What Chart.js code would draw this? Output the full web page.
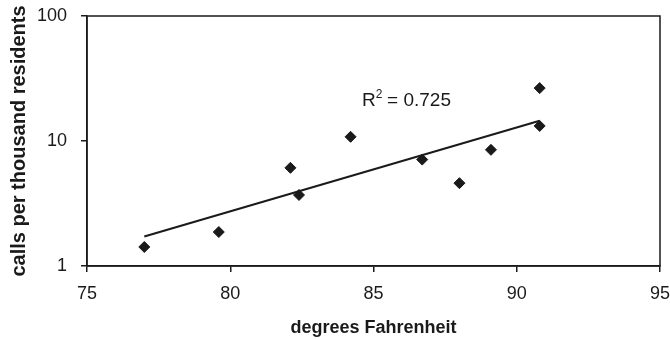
<!DOCTYPE html>
<html>
<head>
<meta charset="utf-8">
<script src="https://cdn.jsdelivr.net/npm/chart.js@4/dist/chart.umd.min.js"></script>
<style>
  html, body { margin: 0; padding: 0; background: #fff; }
  #wrap { width: 670px; height: 339px; }
</style>
</head>
<body>
<div id="wrap"><canvas id="chart"></canvas></div>
<script>
// 기온(화씨)과 주민 천 명당 호출 수
const tempF = [77.0, 79.6, 82.1, 82.4, 84.2, 86.7, 88.0, 89.1, 90.8, 90.8];
const callsPerThousand = [1.42, 1.87, 6.1, 3.7, 10.8, 7.1, 4.6, 8.5, 26.5, 13.2];

// 추세선 양 끝
const trendX = [77.0, 90.8];
const trendY = [1.72, 14.5];

const xTicks = [75, 80, 85, 90, 95];
const yTicks = [1, 10, 100];
const r2Text = '0.725';
const r2At = { x: 84.6, y: 21 };

const ink = '#1a1a1a';
const fontFamily = '"Liberation Sans", Arial, sans-serif';

// 그래프 테두리 + R² 라벨
const framePlugin = {
    id: 'frame',
    afterDraw(chart) {
        const { ctx, chartArea: a, scales } = chart;
        ctx.save();
        ctx.strokeStyle = ink;
        ctx.lineWidth = 1.5;
        ctx.strokeRect(a.left, a.top, a.right - a.left, a.bottom - a.top);

        const px = scales.x.getPixelForValue(r2At.x);
        const py = scales.y.getPixelForValue(r2At.y);
        ctx.fillStyle = ink;
        ctx.textBaseline = 'middle';
        ctx.textAlign = 'left';
        ctx.font = '19px ' + fontFamily;
        ctx.fillText('R', px, py);
        const rw = ctx.measureText('R').width;
        ctx.font = '12px ' + fontFamily;
        ctx.fillText('2', px + rw, py - 6);
        ctx.font = '19px ' + fontFamily;
        ctx.fillText(' = ' + r2Text, px + rw + 6, py);
        ctx.restore();
    }
};

const points = tempF.map((t, i) => ({ x: t, y: callsPerThousand[i] }));
const trend = trendX.map((t, i) => ({ x: t, y: trendY[i] }));

new Chart(document.getElementById('chart'), {
    type: 'scatter',
    data: {
        datasets: [
            {
                data: points,
                pointStyle: 'rectRot',
                pointRadius: 5.5,
                backgroundColor: ink,
                borderColor: ink,
                borderWidth: 1
            },
            {
                type: 'line',
                data: trend,
                borderColor: ink,
                borderWidth: 2,
                pointRadius: 0,
                fill: false
            }
        ]
    },
    options: {
        responsive: true,
        maintainAspectRatio: false,
        animation: false,
        layout: { padding: { top: 16, right: 10, bottom: 0, left: 0 } },
        plugins: {
            legend: { display: false },
            tooltip: { enabled: false }
        },
        scales: {
            x: {
                type: 'linear',
                min: 75,
                max: 95,
                afterBuildTicks: scale => { scale.ticks = xTicks.map(v => ({ value: v })); },
                afterFit: scale => {
                    scale.height = 73;
                    scale.paddingLeft = 0;
                    scale.paddingRight = 0;
                },
                grid: { drawOnChartArea: false, color: ink, tickLength: 6, lineWidth: 1.5 },
                border: { color: ink, width: 1.5 },
                ticks: {
                    color: ink,
                    padding: 11,
                    font: { family: fontFamily, size: 18 }
                },
                title: {
                    display: true,
                    text: 'degrees Fahrenheit',
                    color: ink,
                    padding: { top: 0, bottom: 0 },
                    font: { family: fontFamily, size: 18, weight: 'bold' }
                }
            },
            y: {
                type: 'logarithmic',
                min: 1,
                max: 100,
                afterBuildTicks: scale => { scale.ticks = yTicks.map(v => ({ value: v })); },
                afterFit: scale => {
                    scale.width = 87;
                    scale.paddingTop = 0;
                    scale.paddingBottom = 0;
                },
                grid: { drawOnChartArea: false, color: ink, tickLength: 6, lineWidth: 1.5 },
                border: { color: ink, width: 1.5 },
                ticks: {
                    color: ink,
                    padding: 14,
                    font: { family: fontFamily, size: 18 },
                    callback: v => String(v)
                },
                title: {
                    display: true,
                    text: 'calls per thousand residents',
                    color: ink,
                    padding: { top: 7, bottom: 0 },
                    font: { family: fontFamily, size: 20, weight: 'bold' }
                }
            }
        }
    },
    plugins: [framePlugin]
});
</script>
</body>
</html>
